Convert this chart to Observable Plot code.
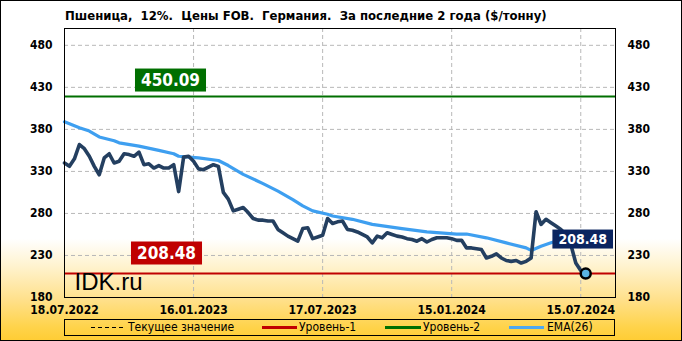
<!DOCTYPE html>
<html>
<head>
<meta charset="utf-8">
<script src="https://cdn.jsdelivr.net/npm/d3@7"></script>
<script src="https://cdn.jsdelivr.net/npm/@observablehq/plot@0.6"></script>
<style>
  html, body { margin: 0; padding: 0; background: #fff; }
  #wrap {
    position: relative; width: 682px; height: 341px; overflow: hidden;
    background: linear-gradient(to bottom, #ffffff 0%, #ffffff 70%, #fff3cf 78%, #ffe08a 88%, #ffd34a 96%, #ffcc33 100%);
    font-family: "DejaVu Sans Condensed", "Liberation Sans", sans-serif;
  }
  #border { position: absolute; left: 0; top: 0; width: 680px; height: 339px; border: 1px solid #000; pointer-events: none; z-index: 5; }
  #chart { position: absolute; left: 0; top: 0; }
  #title { position: absolute; left: 65px; top: 8px; font-size: 13px; font-weight: bold; white-space: pre; color: #000; }
  #legend { position: absolute; left: 64px; top: 319px; width: 549px; height: 15px; border: 1px solid #000; font-size: 12px; color: #000; }
  .li { position: absolute; top: 0; height: 15px; line-height: 15px; white-space: nowrap; }
  .sw { position: absolute; top: 6px; height: 3px; }
</style>
</head>
<body>
<div id="wrap">
  <div id="chart"></div>
  <div id="title"></div>
  <div id="legend"></div>
  <div id="border"></div>
</div>
<script>
// ---- data ----
const titleText = "Пшеница,  12%.  Цены FOB.  Германия.  За последние 2 года ($/тонну)";
const startDate = "2022-07-18";           // first weekly observation
const priceValues = [
  340, 336, 345, 362, 357, 348, 336, 326, 346, 351,
  340, 342, 351, 350, 348, 353, 338, 339, 334, 337,
  334, 334, 338, 306, 347, 348, 342, 333, 332, 335,
  338, 336, 305, 297, 283, 285, 287, 281, 274, 272,
  272, 271, 271, 261, 257, 253, 250, 247, 262, 263,
  250, 252, 254, 274, 268, 270, 271, 261, 260, 258,
  255, 252, 245, 253, 251, 257, 255, 253, 252, 250,
  249, 247, 250, 246, 249, 251, 251, 251, 250, 248,
  248, 239, 239, 238, 237, 227, 229, 232, 227, 224,
  223, 224, 221, 223, 227, 282, 267, 273, 269, 265,
  261, 255, 243, 221, 212, 208.48
];
const emaWeeks  = [0, 3, 5, 7, 10, 11, 15, 19, 22, 23, 27, 31, 33, 36, 40, 43, 46, 48, 50, 53, 54, 58, 62, 68, 73, 79, 81, 85, 89, 93, 94, 96, 98, 99, 102, 105];
const emaValues = [389, 382, 378, 371, 366.5, 364, 360, 355, 351, 348, 346, 343, 337, 326.5, 315.5, 306.5, 296.5, 289, 283, 279, 277, 273, 267, 262, 258, 255.5, 255.5, 251, 245, 239, 236, 241, 245, 247, 249, 248];
const level1 = 208.48;          // Уровень-1
const level2Label = 450.09;     // Уровень-2 (label)
const level2Drawn = 419;        // where the green line is drawn in the picture
const xTickLabels = ["2022-07-18", "2023-01-16", "2023-07-17", "2024-01-15", "2024-07-15"];
const xDomain = ["2022-07-18", "2024-09-02"];
const yTicks = [180, 230, 280, 330, 380, 430, 480];
const yDomain = [180, 500];
const legendItems = ["Текущее значение", "Уровень-1", "Уровень-2", "EMA(26)"];
const watermark = "IDK.ru";

// ---- styles ----
const C = {
  price: "#243f60", ema: "#3e9ff0", red: "#c00000", green: "#006f00",
  navy: "#0b2560", grid: "#b8b8b8", dot: "#5ab4e2"
};
const labelFont = "'DejaVu Sans Condensed', 'Liberation Sans', sans-serif";

// ---- build ----
const day = 864e5;
const t0 = new Date(startDate + "T00:00:00Z").getTime();
const weekDate = i => new Date(t0 + i * 7 * day);
const price = priceValues.map((v, i) => ({date: weekDate(i), value: v}));
const ema = emaWeeks.map((w, i) => ({date: weekDate(w), value: emaValues[i]}));
const last = price[price.length - 1];
const xTicks = xTickLabels.map(s => new Date(s + "T00:00:00Z"));
const fmt = d3.utcFormat("%d.%m.%Y");

const chart = Plot.plot({
  width: 682, height: 341,
  marginLeft: 64, marginRight: 67, marginTop: 28, marginBottom: 44,
  style: {background: "transparent", fontFamily: "'DejaVu Sans Condensed', 'Liberation Sans', sans-serif", fontSize: "12px", fontWeight: "bold", color: "#000", overflow: "visible"},
  x: {type: "utc", domain: xDomain.map(s => new Date(s + "T00:00:00Z")), ticks: xTicks, tickFormat: fmt, tickSize: 0, tickPadding: 8, label: null},
  y: {domain: yDomain, ticks: yTicks, tickSize: 0, tickPadding: 12, axis: "both", label: null},
  marks: [
    Plot.ruleY(yTicks.slice(1), {stroke: C.grid, strokeDasharray: "4,3", strokeWidth: 1}),
    Plot.ruleX(xTicks.slice(1), {stroke: C.grid, strokeDasharray: "4,3", strokeWidth: 1}),
    Plot.ruleY([level2Drawn], {stroke: C.green, strokeWidth: 2}),
    Plot.ruleY([level1], {stroke: C.red, strokeWidth: 2}),
    Plot.line(ema, {x: "date", y: "value", stroke: C.ema, strokeWidth: 3.2, curve: "linear"}),
    Plot.line(price, {x: "date", y: "value", stroke: C.price, strokeWidth: 3.6, strokeLinejoin: "round", strokeLinecap: "round"}),
    Plot.dot([last], {x: "date", y: "value", r: 5, fill: C.dot, stroke: "#000", strokeWidth: 2.5}),
    Plot.text([watermark], {frameAnchor: "bottom-left", text: d => d, dx: 10, dy: -8, fontSize: 24, fontWeight: "normal", fontFamily: "'Liberation Sans', sans-serif", textAnchor: "start", lineAnchor: "bottom", fill: "#000"}),
    Plot.text([level2Label], {y: () => level2Drawn, frameAnchor: "left", textAnchor: "middle", dx: 106, dy: -16, text: d => d.toFixed(2), fill: "#fff", fontSize: 17, fontWeight: "bold", fontFamily: labelFont, ariaDescription: C.green}),
    Plot.text([level1], {y: d => d, frameAnchor: "left", textAnchor: "middle", dx: 102, dy: -20, text: d => d.toFixed(2), fill: "#fff", fontSize: 17, fontWeight: "bold", fontFamily: labelFont, ariaDescription: C.red}),
    Plot.text([last], {x: "date", y: "value", textAnchor: "middle", dx: -3, dy: -34, text: d => d.value.toFixed(2), fill: "#fff", fontSize: 14, fontWeight: "bold", fontFamily: labelFont, ariaDescription: C.navy}),
    Plot.frame({stroke: "#000", strokeWidth: 1})
  ]
});
document.getElementById("chart").appendChild(chart);

// boxes behind value labels
const ns = "http://www.w3.org/2000/svg";
chart.querySelectorAll("g[aria-description]").forEach(g => {
  const fillColor = g.getAttribute("aria-description");
  g.querySelectorAll("text").forEach(t => {
    const b = t.getBBox();
    const padX = 6, padY = 1.5;
    const r = document.createElementNS(ns, "rect");
    r.setAttribute("x", b.x - padX);
    r.setAttribute("y", b.y - padY);
    r.setAttribute("width", b.width + 2 * padX);
    r.setAttribute("height", b.height + 2 * padY);
    r.setAttribute("fill", fillColor);
    r.setAttribute("stroke", "none");
    const tr = t.getAttribute("transform");
    if (tr) r.setAttribute("transform", tr);
    g.insertBefore(r, t);
  });
});

document.getElementById("title").textContent = titleText;

// legend
const lg = document.getElementById("legend");
const legendLayout = [
  {sw: 26, swW: 33, tx: 63, kind: "dash", color: "#000"},
  {sw: 197, swW: 35, tx: 234, kind: "solid", color: C.red},
  {sw: 320, swW: 36, tx: 358, kind: "solid", color: C.green},
  {sw: 444, swW: 35, tx: 482, kind: "solid", color: "#4fa8f0"}
];
legendItems.forEach((name, i) => {
  const L = legendLayout[i];
  const s = document.createElement("div");
  s.className = "sw";
  s.style.left = L.sw + "px"; s.style.width = L.swW + "px";
  if (L.kind === "dash") {
    s.style.top = "7px"; s.style.height = "1px";
    s.style.background = "repeating-linear-gradient(to right, " + L.color + " 0px, " + L.color + " 4px, transparent 4px, transparent 7px)";
  } else {
    s.style.background = L.color;
  }
  lg.appendChild(s);
  const t = document.createElement("div");
  t.className = "li"; t.style.left = L.tx + "px"; t.textContent = name;
  lg.appendChild(t);
});
</script>
</body>
</html>
